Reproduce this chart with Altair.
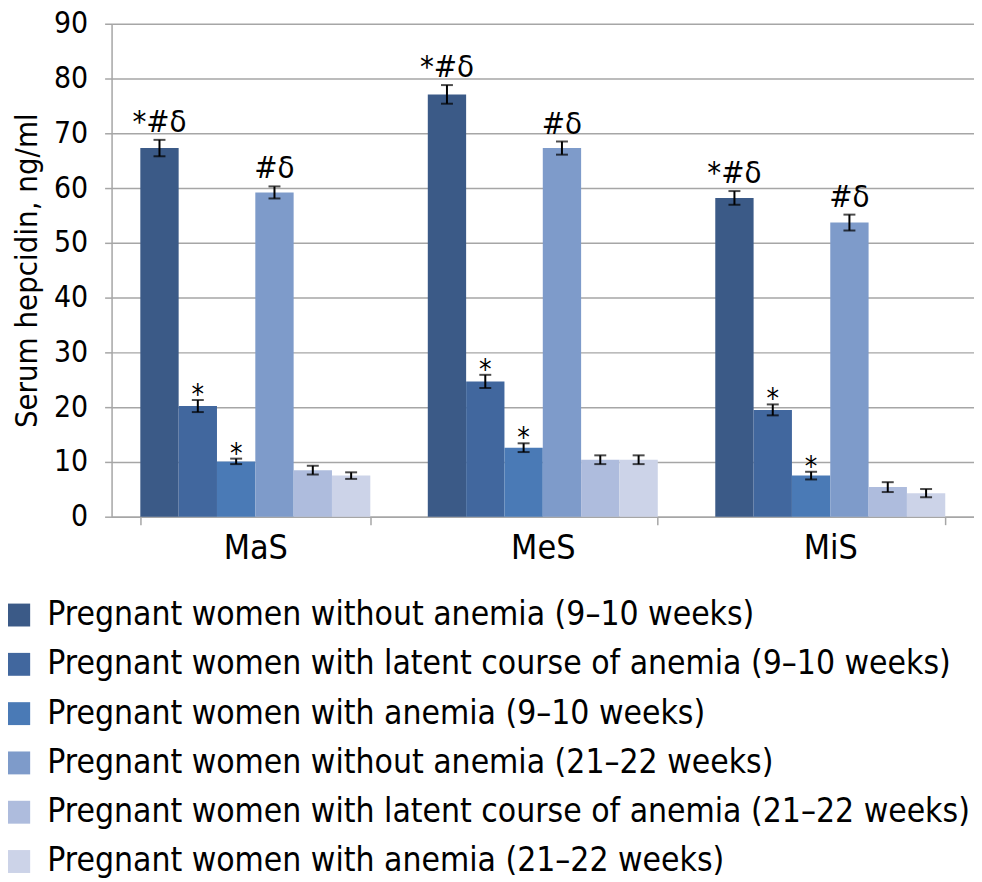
import altair as alt
import pandas as pd

groups = ["MaS", "MeS", "MiS"]
series = [
    "Pregnant women without anemia (9–10 weeks)",
    "Pregnant women with latent course of anemia (9–10 weeks)",
    "Pregnant women with anemia (9–10 weeks)",
    "Pregnant women without anemia (21–22 weeks)",
    "Pregnant women with latent course of anemia (21–22 weeks)",
    "Pregnant women with anemia (21–22 weeks)",
]
colors = ["#3B5A87", "#41679E", "#4A7AB6", "#7E9BCA", "#AEBCDD", "#CCD3E8"]

values = {
    "MaS": [67.3, 20.2, 10.1, 59.2, 8.5, 7.5],
    "MeS": [77.1, 24.7, 12.6, 67.3, 10.4, 10.4],
    "MiS": [58.2, 19.5, 7.5, 53.7, 5.4, 4.3],
}
errors = {
    "MaS": [1.5, 1.1, 0.5, 1.1, 0.8, 0.6],
    "MeS": [1.7, 1.2, 0.8, 1.2, 0.8, 0.8],
    "MiS": [1.25, 1.0, 0.7, 1.45, 0.9, 0.75],
}
marks = ["*#δ", "*", "*", "#δ", "", ""]

rows = []
for g in groups:
    for i, s in enumerate(series):
        v = values[g][i]
        e = errors[g][i]
        rows.append({"group": g, "series": s, "order": i, "value": v,
                     "lo": v - e, "hi": v + e, "mark": marks[i]})
df = pd.DataFrame(rows)

FONT = "DejaVu Sans Condensed"

x = alt.X("group:N", sort=groups, title=None,
          scale=alt.Scale(paddingInner=0.2, paddingOuter=0.1),
          axis=alt.Axis(labelAngle=0, labelFontSize=34, labelColor="black",
                        labelFont=FONT, labelPadding=7, tickBand="extent",
                        tickSize=8, tickColor="#A6A6A6", tickWidth=1.5,
                        domainColor="#A6A6A6", domainWidth=1.5, grid=False))
xo = alt.XOffset("series:N", sort=series)

base = alt.Chart(df)

bars = base.mark_bar().encode(
    x=x, xOffset=xo,
    y=alt.Y("value:Q", title="Serum hepcidin, ng/ml",
            scale=alt.Scale(domain=[0, 90], nice=False),
            axis=alt.Axis(values=list(range(0, 91, 10)), labelFontSize=30,
                          labelFont=FONT, labelColor="black", labelPadding=17,
                          tickSize=7, tickColor="#A6A6A6", tickWidth=1.5,
                          domainColor="#A6A6A6", domainWidth=1.5,
                          gridColor="#A6A6A6", gridWidth=1.5,
                          titleFont=FONT, titleFontSize=31, titleFontWeight="normal",
                          titleColor="black", titlePadding=10)),
    color=alt.Color("series:N", sort=series,
                    scale=alt.Scale(domain=series, range=colors),
                    legend=alt.Legend(title=None, orient="none", legendX=-110,
                                      legendY=577, direction="vertical",
                                      symbolType="square", symbolSize=529,
                                      symbolStrokeWidth=0, labelFontSize=33.5,
                                      labelFont=FONT, labelColor="black",
                                      labelOffset=12, rowPadding=14.5, padding=0,
                                      labelLimit=1000)),
)

err_rule = base.mark_rule(color="black", strokeWidth=2).encode(
    x=x, xOffset=xo, y="lo:Q", y2="hi:Q")
cap_lo = base.mark_tick(color="black", thickness=2, size=12, orient="horizontal").encode(
    x=x, xOffset=xo, y="lo:Q")
cap_hi = base.mark_tick(color="black", thickness=2, size=12, orient="horizontal").encode(
    x=x, xOffset=xo, y="hi:Q")

txt_hash = base.transform_filter("indexof(datum.mark, '#') >= 0").mark_text(
    font=FONT, fontSize=31, color="black", baseline="alphabetic", dy=-8).encode(
    x=x, xOffset=xo, y="hi:Q", text="mark:N")
txt_star = base.transform_filter("datum.mark == '*'").mark_text(
    font=FONT, fontSize=28, color="black", baseline="alphabetic", dy=4).encode(
    x=x, xOffset=xo, y="hi:Q", text="mark:N")

chart = alt.layer(bars, err_rule, cap_lo, cap_hi, txt_hash, txt_star).properties(
    width=866, height=495,
    autosize=alt.AutoSizeParams(type="none"),
    padding={"left": 104, "top": 14, "right": 0, "bottom": 362},
).configure_view(stroke=None)

chart.save("out.html", embed_options={"renderer": "svg", "actions": False})
